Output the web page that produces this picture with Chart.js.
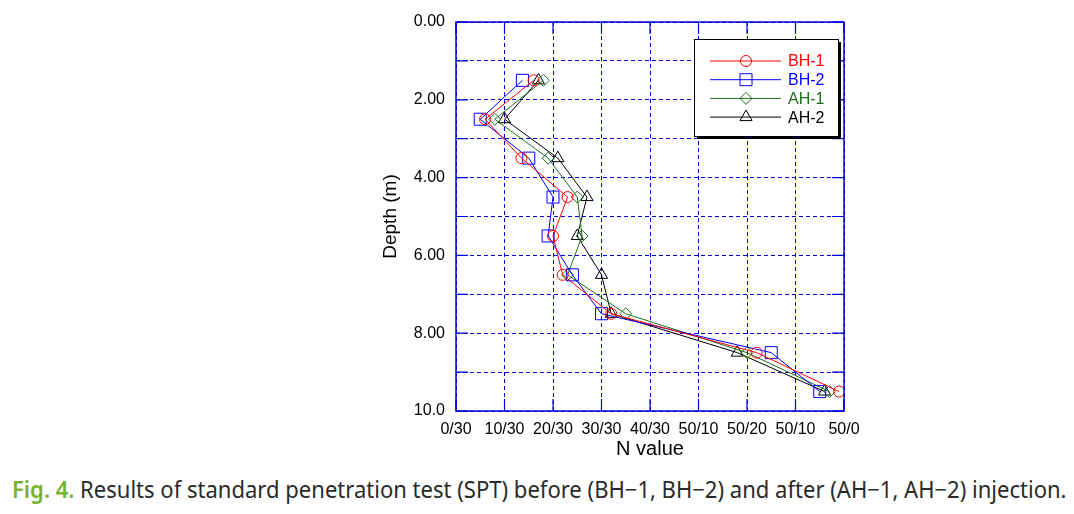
<!DOCTYPE html>
<html>
<head>
<meta charset="utf-8">
<title>SPT results</title>
<script src="https://cdn.jsdelivr.net/npm/chart.js@4.4.1/dist/chart.umd.min.js"></script>
<style>
  html, body { margin: 0; padding: 0; background: #fff; }
  #wrap { position: relative; width: 1074px; height: 466px; }
  #caption {
    position: absolute; left: 12px; top: 472px;
    font-family: "Noto Sans", sans-serif; font-size: 24px; color: #2a2a2a;
    white-space: nowrap;
    transform: scaleX(0.918); transform-origin: 0 0;
  }
  #caption b { color: #78b22e; font-weight: 600; }
</style>
</head>
<body>
<div id="wrap"><canvas id="chart" width="1074" height="466"></canvas></div>
<div id="caption"><b>Fig. 4.</b> Results of standard penetration test (SPT) before (BH−1, BH−2) and after (AH−1, AH−2) injection.</div>

<script>
// depth of each test (m)
const depths = [1.5, 2.5, 3.5, 4.5, 5.5, 6.5, 7.5, 8.5, 9.5];

// N value positions (0..80 on the axis)
const bh1 = [16, 6, 13.5, 23, 20, 22, 32, 62, 79];
const bh2 = [13.7, 5, 15, 20, 19, 24, 30, 65, 75];
const ah1 = [18, 8, 19, 25, 26, 23, 35, 60, 77];
const ah2 = [17, 10, 21, 27, 25, 30, 32, 58, 76];

const xTickLabels = ["0/30", "10/30", "20/30", "30/30", "40/30", "50/10", "50/20", "50/10", "50/0"];
const yTickLabels = {0: "0.00", 2: "2.00", 4: "4.00", 6: "6.00", 8: "8.00", 10: "10.0"};

const AXIS_BLUE = "#0000dd";
const FONT = "'Liberation Sans', Arial, sans-serif";

function toPoints(vals) {
  return vals.map((v, i) => ({ x: v, y: depths[i] }));
}

function makeSet(label, vals, color, style, radius) {
  return {
    label,
    data: toPoints(vals),
    showLine: true,
    borderColor: color,
    borderWidth: 1,
    backgroundColor: "rgba(0,0,0,0)",
    pointStyle: style,
    pointRadius: radius,
    pointBorderColor: color,
    pointBorderWidth: 1,
    pointBackgroundColor: "rgba(0,0,0,0)",
    textColor: color
  };
}

// frame + inner ticks
const framePlugin = {
  id: "frame",
  afterDraw(chart) {
    const { ctx, chartArea: a, scales } = chart;
    const tick = 12;
    ctx.save();
    ctx.strokeStyle = AXIS_BLUE;
    ctx.lineWidth = 1.5;
    ctx.setLineDash([]);
    ctx.strokeRect(a.left, a.top, a.right - a.left, a.bottom - a.top);
    ctx.lineWidth = 1.2;
    ctx.beginPath();
    scales.x.ticks.forEach(t => {
      const px = scales.x.getPixelForValue(t.value);
      ctx.moveTo(px, a.bottom); ctx.lineTo(px, a.bottom - tick);
      ctx.moveTo(px, a.top); ctx.lineTo(px, a.top + tick);
    });
    scales.y.ticks.forEach(t => {
      const py = scales.y.getPixelForValue(t.value);
      ctx.moveTo(a.left, py); ctx.lineTo(a.left + tick, py);
      ctx.moveTo(a.right, py); ctx.lineTo(a.right - tick, py);
    });
    ctx.stroke();
    ctx.restore();
  }
};

// boxed legend with shadow, line + marker + coloured text
const legendBox = {
  id: "legendBox",
  afterDraw(chart) {
    const ctx = chart.ctx;
    const x = 694, y = 39, w = 144, h = 97;
    ctx.save();
    ctx.fillStyle = "#000";
    ctx.fillRect(x + 3, y + 3, w, h);
    ctx.fillStyle = "#fff";
    ctx.fillRect(x, y, w, h);
    ctx.strokeStyle = "#000";
    ctx.lineWidth = 1;
    ctx.strokeRect(x + 0.5, y + 0.5, w, h);
    ctx.textBaseline = "middle";
    chart.data.datasets.forEach((ds, i) => {
      const ly = 61 + i * 18.7;
      ctx.strokeStyle = ds.borderColor;
      ctx.lineWidth = 1;
      ctx.beginPath();
      ctx.moveTo(710, ly);
      ctx.lineTo(781, ly);
      ctx.stroke();
      ctx.fillStyle = "rgba(0,0,0,0)";
      Chart.helpers.drawPoint(ctx, {
        pointStyle: ds.pointStyle, radius: ds.pointRadius, rotation: 0, borderWidth: 1
      }, 746, ly);
      ctx.font = "16px " + FONT;
      ctx.fillStyle = ds.textColor;
      ctx.fillText(ds.label, 788, ly + 1);
    });
    ctx.restore();
  }
};

const ctx = document.getElementById("chart").getContext("2d");
new Chart(ctx, {
  type: "scatter",
  data: {
    datasets: [
      makeSet("BH-1", bh1, "#ff0000", "circle", 5.5),
      makeSet("BH-2", bh2, "#0000ff", "rect", 8.5),
      makeSet("AH-1", ah1, "#1f6e1f", "rectRot", 6),
      makeSet("AH-2", ah2, "#000000", "triangle", 7)
    ]
  },
  options: {
    responsive: false,
    animation: false,
    layout: { padding: { left: 372, right: 230, top: 22, bottom: 0 } },
    plugins: {
      legend: { display: false },
      tooltip: { enabled: false }
    },
    scales: {
      x: {
        type: "linear",
        position: "bottom",
        min: 0,
        max: 80,
        afterFit: s => { s.height = 55; },
        ticks: {
          stepSize: 10,
          autoSkip: false,
          maxRotation: 0,
          padding: 9,
          color: "#000",
          font: { family: FONT, size: 16 },
          callback: v => xTickLabels[Math.round(v / 10)]
        },
        grid: { color: AXIS_BLUE, lineWidth: 1, drawTicks: false },
        border: { display: false, dash: [4, 3] },
        title: {
          display: true,
          text: "N value",
          color: "#000",
          font: { family: FONT, size: 20 },
          padding: { top: 0, bottom: 5 }
        }
      },
      y: {
        type: "linear",
        reverse: true,
        min: 0,
        max: 10,
        afterFit: s => { s.width = 84; },
        ticks: {
          stepSize: 1,
          autoSkip: false,
          padding: 11,
          color: "#000",
          font: { family: FONT, size: 16 },
          callback: v => yTickLabels[v] !== undefined ? yTickLabels[v] : ""
        },
        grid: { color: AXIS_BLUE, lineWidth: 1, drawTicks: false },
        border: { display: false, dash: [4, 3] },
        title: {
          display: true,
          text: "Depth (m)",
          color: "#000",
          font: { family: FONT, size: 19 },
          padding: { top: 7, bottom: 0 }
        }
      }
    }
  },
  plugins: [framePlugin, legendBox]
});
</script>
</body>
</html>
